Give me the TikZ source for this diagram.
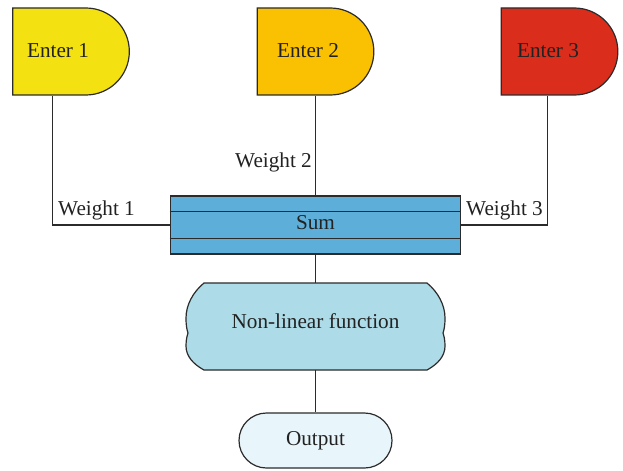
\documentclass[tikz,border=0pt]{standalone}
\usepackage{fontspec}
\setmainfont{Liberation Serif}
\usetikzlibrary{shapes.misc,calc}
\definecolor{cEnterA}{HTML}{F4E112}
\definecolor{cEnterB}{HTML}{F9C102}
\definecolor{cEnterC}{HTML}{DB2D1C}
\definecolor{cSum}{HTML}{5DAFDA}
\definecolor{cNL}{HTML}{ADDBE7}
\definecolor{cOut}{HTML}{E8F5FA}
\definecolor{cLine}{HTML}{2B2B2B}
\definecolor{cText}{HTML}{222222}
\begin{document}
\begin{tikzpicture}[x=0.75pt,y=-0.75pt,
  txt/.style={font=\fontsize{15.9}{18}\selectfont, text=cText, inner sep=0pt, anchor=base},
  enterbox/.style={draw=cLine, line width=0.9pt, rounded rectangle, rounded rectangle west arc=none,
     minimum width=87.5pt, minimum height=65.25pt, inner sep=0pt},
  conn/.style={draw=cLine, line width=0.8pt},
  ghost/.style={inner sep=0pt, minimum width=194pt, minimum height=65pt}
]
\useasboundingbox (0,0) rectangle (623,470);

% Enter shapes
\node[enterbox, fill=cEnterA] (e1) at (71,51.5) {};
\node[enterbox, fill=cEnterB] (e2) at (315.5,51.5) {};
\node[enterbox, fill=cEnterC] (e3) at (559.5,51.5) {};
\node[txt] (t1) at (58,57.3) {Enter 1};
\node[txt] (t2) at (308,57.3) {Enter 2};
\node[txt] (t3) at (548,57.3) {Enter 3};

% Sum
\node[draw=cLine, line width=0.9pt, fill=cSum, minimum width=218pt, minimum height=43.5pt, inner sep=0pt] (sum) at (315.5,225) {};
\draw[cLine, line width=0.9pt] ($(sum.north west)+(0,16)$) coordinate (sa) -- (sa -| sum.east);
\draw[cLine, line width=0.9pt] ($(sum.north west)+(0,43)$) coordinate (sb) -- (sb -| sum.east);
\node[txt] (tsum) at (315.5,229) {Sum};

% Non-linear function
\draw[cLine, line width=0.9pt, fill=cNL]
  (204,283) -- (427,283)
  .. controls (438,292) and (445,305) .. (445,318)
  .. controls (445,326) and (444,330) .. (443,333)
  .. controls (444,336) and (445,340) .. (445,346)
  .. controls (445,356) and (438,364) .. (427,370)
  -- (204,370)
  .. controls (193,364) and (186,356) .. (186,346)
  .. controls (186,340) and (187,336) .. (188,333)
  .. controls (187,330) and (186,326) .. (186,318)
  .. controls (186,305) and (193,292) .. (204,283) -- cycle;
\node[ghost] (nl) at (315.5,326.5) {};
\node[txt] (tnl) at (315.5,328) {Non-linear function};

% Output
\node[draw=cLine, line width=0.9pt, fill=cOut, rounded rectangle, minimum width=114.75pt, minimum height=41.25pt, inner sep=0pt] (out) at (315.5,440.5) {};
\node[txt] (tout) at (315.5,445) {Output};

% connectors
\coordinate (c1) at ($(e1.south west)+(40,0)$);
\coordinate (c3) at ($(e3.south west)+(47,0)$);
\draw[conn] (c1) |- (sum.west);
\draw[conn] (c3) |- (sum.east);
\draw[conn] (e2.south) -- (sum.north);
\draw[conn] (sum.south) -- (nl.north);
\draw[conn] (nl.south) -- (out.north);

% weights
\node[txt] (w1) at (96.5,215) {Weight 1};
\node[txt] (w2) at (273.5,168) {Weight 2};
\node[txt] (w3) at (504.5,215) {Weight 3};
\end{tikzpicture}
\end{document}
